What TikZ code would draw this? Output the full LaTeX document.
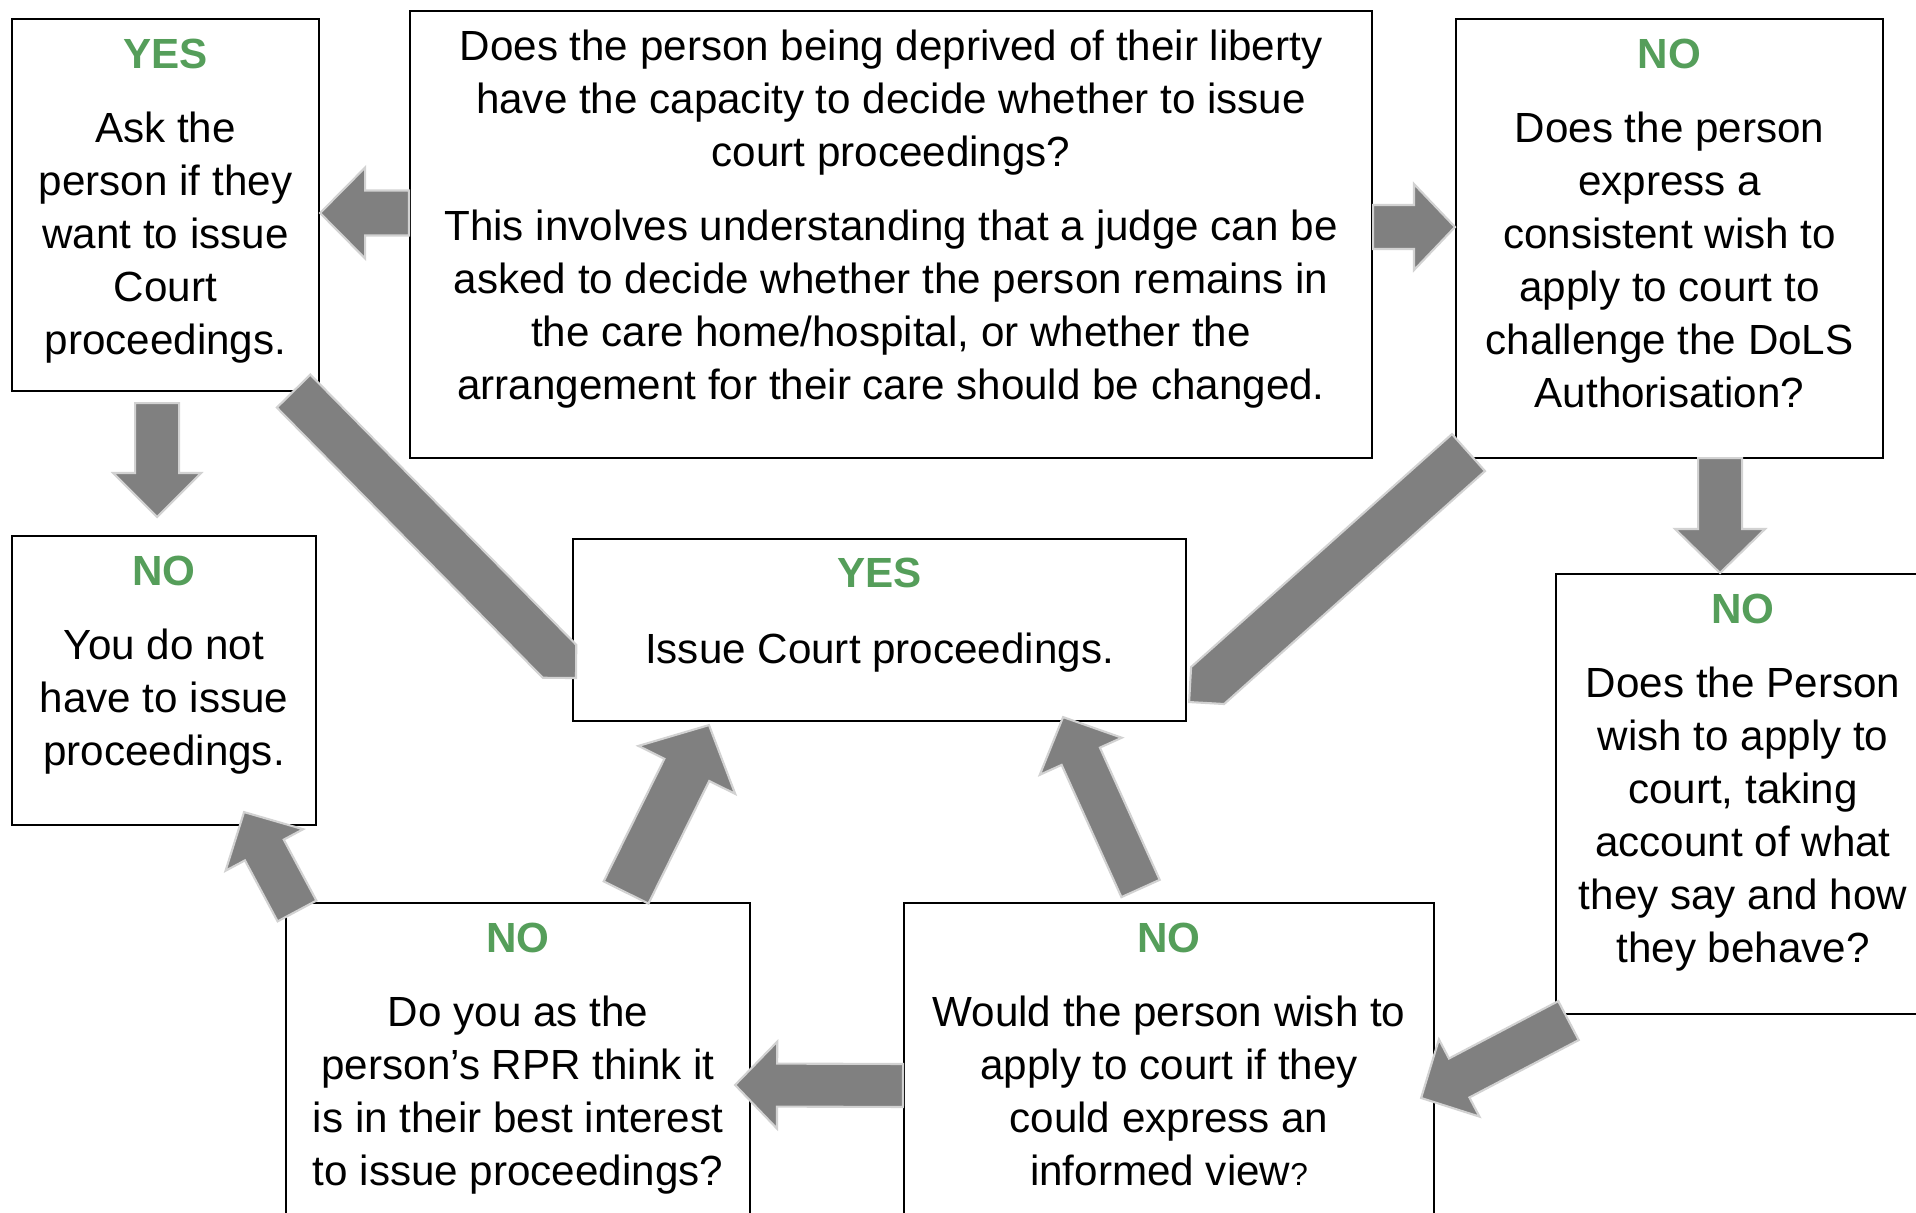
\documentclass[tikz,border=0pt]{standalone}
\usepackage{fontspec}
\setmainfont{Liberation Sans}
\usepackage{xcolor}
\definecolor{answergreen}{RGB}{85,158,90}
\definecolor{arrowgrey}{RGB}{128,128,128}
\definecolor{arrowedge}{RGB}{210,210,210}
\usetikzlibrary{positioning, calc}

\newcommand{\answer}[1]{{\color{answergreen}\bfseries #1}}
% tail, tip, half shaft, half head, head length
\newcommand{\blockarrow}[5]{%
    \path (#1) coordinate (ba-tail) (#2) coordinate (ba-tip);
    \path ($(ba-tip)!#5!(ba-tail)$) coordinate (ba-base);
    \filldraw[arrowbody] ($(ba-tail)!#3!90:(ba-tip)$) -- ($(ba-base)!#3!-90:(ba-tail)$)
        -- ($(ba-base)!#4!-90:(ba-tail)$) -- (ba-tip) -- ($(ba-base)!#4!90:(ba-tail)$)
        -- ($(ba-base)!#3!90:(ba-tail)$) -- ($(ba-tail)!#3!-90:(ba-tip)$) -- cycle;}
% tail, tip, half shaft
\newcommand{\pointarrow}[3]{%
    \path (#1) coordinate (ba-tail) (#2) coordinate (ba-tip);
    \path ($(ba-tip)!#3!(ba-tail)$) coordinate (ba-base);
    \filldraw[arrowbody] ($(ba-tail)!#3!90:(ba-tip)$) -- ($(ba-base)!#3!-90:(ba-tail)$)
        -- (ba-tip) -- ($(ba-base)!#3!90:(ba-tail)$) -- ($(ba-tail)!#3!-90:(ba-tip)$) -- cycle;}

\begin{document}
\begin{tikzpicture}[
    box/.style={draw, line width=0.6pt, anchor=north west, inner sep=0pt},
    txt/.style={align=center, inner sep=0pt, font=\fontsize{12}{15.1}\selectfont},
    arrowbody/.style={fill=arrowgrey, draw=arrowedge, line width=0.6pt}
]
    \useasboundingbox (0,0) rectangle (19.16,12.13);

    \node[box, minimum width=9.62cm, minimum height=4.47cm] (question) at (4.09,12.03) {};
    \node[txt, below=0.19cm of question.north] (questionText) {Does the person being deprived of their liberty\\ have the capacity to decide whether to issue\\ court proceedings?\\[0.21cm] This involves understanding that a judge can be\\ asked to decide whether the person remains in\\ the care home/hospital, or whether the\\ arrangement for their care should be changed.};

    \node[box, minimum width=3.07cm, minimum height=3.72cm] (ask) at (0.11,11.95) {};
    \node[txt, below=0.2cm of ask.north] (askText) {\answer{YES}\\[0.21cm] Ask the\\ person if they\\ want to issue\\ Court\\ proceedings.};

    \node[box, minimum width=4.27cm, minimum height=4.39cm] (express) at (14.55,11.95) {};
    \node[txt, below=0.2cm of express.north] (expressText) {\answer{NO}\\[0.21cm] Does the person\\ express a\\ consistent wish to\\ apply to court to\\ challenge the DoLS\\ Authorisation?};

    \node[box, minimum width=3.04cm, minimum height=2.89cm] (nothave) at (0.11,6.78) {};
    \node[txt, below=0.2cm of nothave.north] (nothaveText) {\answer{NO}\\[0.21cm] You do not\\ have to issue\\ proceedings.};

    \node[box, minimum width=6.13cm, minimum height=1.82cm] (issue) at (5.72,6.75) {};
    \node[txt, below=0.19cm of issue.north] (issueText) {\answer{YES}\\[0.23cm] Issue Court proceedings.};

    \node[box, minimum width=3.74cm, minimum height=4.40cm] (person) at (15.55,6.40) {};
    \node[txt, below=0.2cm of person.north] (personText) {\answer{NO}\\[0.21cm] Does the Person\\ wish to apply to\\ court, taking\\ account of what\\ they say and how\\ they behave?};

    \node[box, minimum width=4.64cm, minimum height=3.5cm] (rpr) at (2.85,3.11) {};
    \node[txt, below=0.2cm of rpr.north] (rprText) {\answer{NO}\\[0.21cm] Do you as the\\ person’s RPR think it\\ is in their best interest\\ to issue proceedings?};

    \node[box, minimum width=5.30cm, minimum height=3.5cm] (would) at (9.03,3.11) {};
    \node[txt, below=0.2cm of would.north] (wouldText) {\answer{NO}\\[0.21cm] Would the person wish to\\ apply to court if they\\ could express an\\ informed view{\fontsize{9}{15.1}\selectfont ?}};

    \blockarrow{$(question.west)+(0,0.215)$}{$(ask.east)+(0,-0.08)$}{2.25mm}{4.55mm}{4.5mm}
    \blockarrow{$(question.east)+(0,0.075)$}{$(express.west)+(0,0.115)$}{2.2mm}{4.3mm}{4.1mm}
    \blockarrow{$(ask.south)+(-0.085,-0.11)$}{$(nothave.north)+(-0.07,0.18)$}{2.2mm}{4.4mm}{4.4mm}
    \pointarrow{$(ask.south east)+(-0.265,0.01)$}{$(issue.west)+(0.04,-0.48)$}{2.35mm}
    \pointarrow{$(express.south west)+(0.135,0.065)$}{$(issue.east)+(0.02,-0.72)$}{2.48mm}
    \blockarrow{$(express.south)+(0.505,0.01)$}{$(person.north)+(-0.23,0)$}{2.2mm}{4.5mm}{4.4mm}
    \blockarrow{$(person.south west)+(0.135,-0.055)$}{$(would.north east)+(-0.14,-1.96)$}{2.2mm}{4.36mm}{4.3mm}
    \blockarrow{$(would.north west)+(0,-1.835)$}{$(rpr.north east)+(-0.16,-1.83)$}{2.15mm}{4.35mm}{4.2mm}
    \blockarrow{$(would.north)+(-0.285,0.135)$}{$(issue.south)+(1.835,0.05)$}{2.1mm}{4.5mm}{4.3mm}
    \blockarrow{$(rpr.north)+(1.08,0.095)$}{$(issue.south west)+(1.37,-0.03)$}{2.5mm}{5.4mm}{5.0mm}
    \blockarrow{$(rpr.north west)+(0.12,-0.09)$}{$(nothave.south)+(0.80,0.14)$}{2.2mm}{4.4mm}{4.3mm}

\end{tikzpicture}
\end{document}
